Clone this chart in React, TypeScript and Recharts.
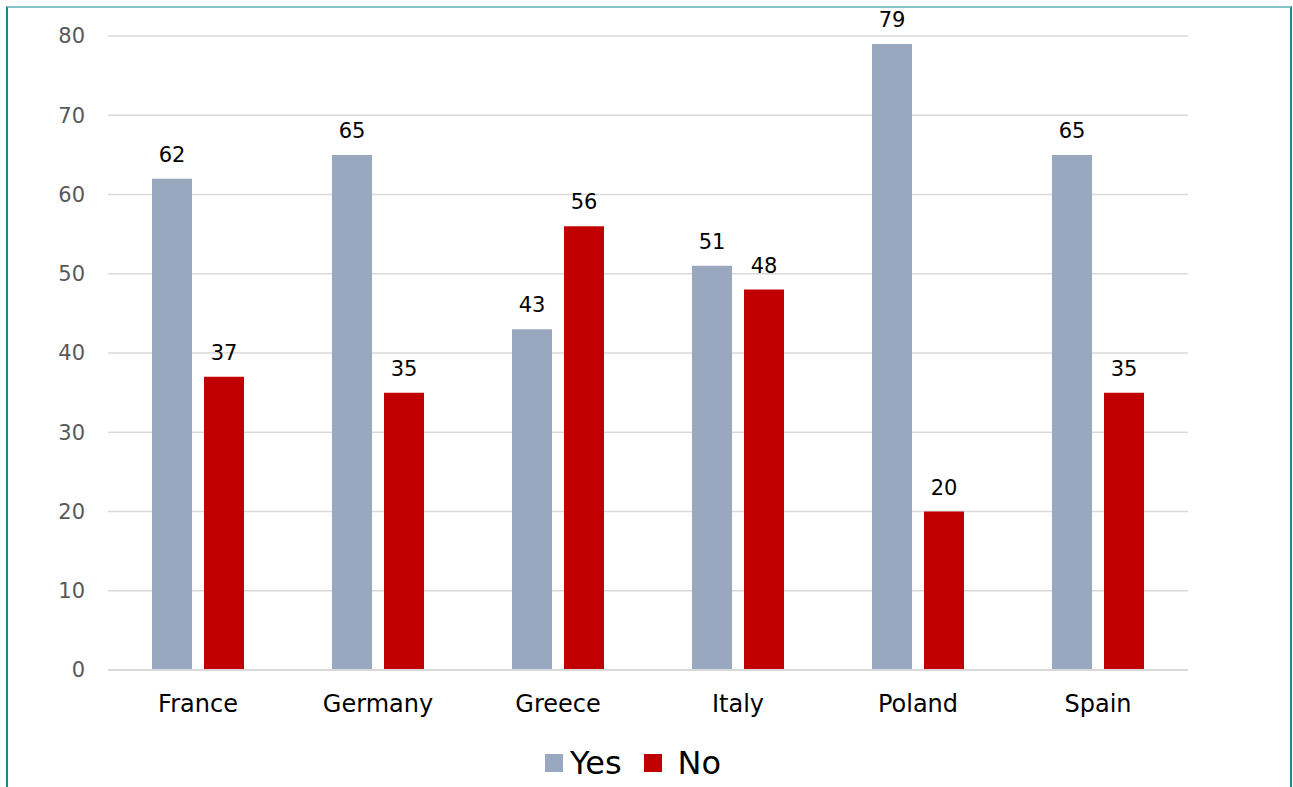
import React from 'react';
import { BarChart, Bar, XAxis, YAxis, CartesianGrid, Legend, LabelList } from 'recharts';

const countries = ['France', 'Germany', 'Greece', 'Italy', 'Poland', 'Spain'];
const yesValues = [62, 65, 43, 51, 79, 65];
const noValues = [37, 35, 56, 48, 20, 35];
const yTicks = [0, 10, 20, 30, 40, 50, 60, 70, 80];
const seriesNames = ['Yes', 'No'];
const seriesColors = ['#99a8be', '#c00000'];

const data = countries.map((c, i) => ({ country: c, Yes: yesValues[i], No: noValues[i] }));

const FONT = '"DejaVu Sans", sans-serif';

const LegendContent = () => (
  <div
    style={{
      display: 'flex',
      justifyContent: 'center',
      alignItems: 'center',
      paddingLeft: 70,
      fontSize: 32,
      fontFamily: FONT,
      color: '#000',
    }}
  >
    {seriesNames.map((name, i) => (
      <div key={name} style={{ display: 'flex', alignItems: 'center', marginRight: i === 0 ? 22 : 0 }}>
        <span
          style={{
            display: 'inline-block',
            width: 18,
            height: 18,
            background: seriesColors[i],
            marginRight: i === 0 ? 7 : 16,
          }}
        />
        <span>{name}</span>
      </div>
    ))}
  </div>
);

export default function App() {
  return (
    <div
      style={{
        position: 'absolute',
        left: 6,
        top: 6,
        width: 1282,
        height: 800,
        borderLeft: '2px solid #1e8393',
        borderRight: '2px solid #1e8393',
        borderTop: '2px solid #86c2c9',
        fontFamily: FONT,
      }}
    >
      <BarChart
        width={1282}
        height={779}
        data={data}
        margin={{ top: 28, right: 102, left: 0, bottom: 3 }}
        barSize={40}
        barGap={12}
      >
        <CartesianGrid horizontal vertical={false} stroke="#d9d9d9" strokeWidth={1.5} />
        <XAxis
          dataKey="country"
          height={74}
          tickLine={false}
          axisLine={{ stroke: '#d9d9d9', strokeWidth: 2 }}
          tickMargin={19}
          tick={{ fill: '#000', fontSize: 24, fontFamily: FONT }}
        />
        <YAxis
          width={100}
          domain={[0, 80]}
          ticks={yTicks}
          tickLine={false}
          axisLine={false}
          tickMargin={17}
          tick={{ fill: '#595959', fontSize: 21, fontFamily: FONT }}
        />
        <Legend verticalAlign="bottom" align="center" height={40} content={<LegendContent />} />
        <Bar dataKey="Yes" fill={seriesColors[0]} isAnimationActive={false}>
          <LabelList dataKey="Yes" position="top" offset={17} fill="#000" fontSize={21} fontFamily={FONT} />
        </Bar>
        <Bar dataKey="No" fill={seriesColors[1]} isAnimationActive={false}>
          <LabelList dataKey="No" position="top" offset={17} fill="#000" fontSize={21} fontFamily={FONT} />
        </Bar>
      </BarChart>
    </div>
  );
}
